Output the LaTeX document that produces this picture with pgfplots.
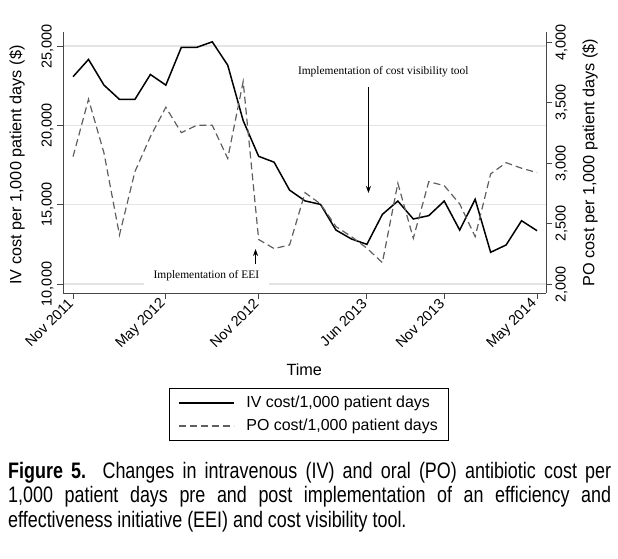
\documentclass[border=0pt]{standalone}
\usepackage{pgfplots}
\usepackage{pgfplotstable}
\pgfplotsset{compat=1.18}
\usetikzlibrary{arrows.meta}
\usepackage{fontspec}
\setmainfont{Liberation Sans}
\newfontfamily\annotfont{Liberation Serif}
\newfontfamily\capfont[FakeStretch=0.8]{Liberation Sans}

% month index 0 = Nov 2011 ... 30 = May 2014
\pgfplotstableread{
m   iv     po
0   23070  3055
1   24160  3529
2   22540  3085
3   21640  2407
4   21640  2931
5   23210  3220
6   22540  3463
7   24920  3253
8   24920  3314
9   25270  3314
10  23800  3040
11  20300  3675
12  18050  2370
13  17680  2295
14  15920  2325
15  15240  2757
16  15020  2664
17  13400  2477
18  12840  2394
19  12500  2298
20  14390  2179
21  15230  2835
22  14100  2380
23  14310  2848
24  15230  2815
25  13400  2664
26  15340  2394
27  12000  2912
28  12460  3005
29  13990  2959
30  13360  2923
}\costdata

\definecolor{axisgray}{RGB}{70,70,70}
\definecolor{gridgray}{RGB}{228,228,228}
\definecolor{dashgray}{RGB}{95,95,95}

\pgfplotsset{
  twin/.style={
    at={(63bp,266bp)}, anchor=south west,
    scale only axis, width=483bp, height=261bp,
    xmin=-0.65, xmax=30.58,
    scaled y ticks=false,
    axis line style={-, draw=axisgray, line width=0.9bp},
    tick style={draw=axisgray, line width=0.9bp},
    tick align=outside, major tick length=6bp,
    ticklabel style={font=\fontsize{14.5}{16}\selectfont},
    label style={font=\fontsize{16.3}{18}\selectfont},
    clip=false,
  },
  ivstyle/.style={black, line width=1.5bp},
  postyle/.style={dashgray, line width=1.2bp, dash pattern=on 7bp off 4bp},
}

\begin{document}
\begin{tikzpicture}
\useasboundingbox (0,0) rectangle (618bp,559bp);

\begin{axis}[
  twin,
  ymin=9433, ymax=25889,
  axis x line*=bottom, axis y line*=left,
  xtick={0,6,12,19,24,30},
  xticklabels={Nov 2011, May 2012, Nov 2012, Jun 2013, Nov 2013, May 2014},
  xticklabel style={rotate=45, anchor=east},
  ytick={10000,15000,20000,25000},
  yticklabels={{10,000},{15,000},{20,000},{25,000}},
  yticklabel style={rotate=90, anchor=south},
  ymajorgrids, grid style={gridgray, line width=1.4bp},
  xlabel={Time},
  xlabel style={at={(axis description cs:0.4995,-0.295)}, anchor=center},
  ylabel={IV cost per 1,000 patient days (\$)},
  ylabel style={at={(axis description cs:-0.095,0.49)}, anchor=center},
  legend style={at={(axis description cs:0.509,-0.364)}, anchor=north,
    draw=black, line width=0.8bp, font=\fontsize{16}{18}\selectfont,
    inner xsep=9bp, inner ysep=6bp, row sep=6bp, column sep=10bp},
  legend cell align=left,
  legend image code/.code={\draw[#1] (0bp,0bp) -- (55bp,0bp);},
]
\addplot[ivstyle] table[x=m, y=iv] {\costdata};
\addlegendentry{IV cost/1,000 patient days}
\addlegendimage{postyle}
\addlegendentry{PO cost/1,000 patient days}

\node[font=\annotfont\fontsize{11.5}{12}\selectfont] at (axis cs:20.06,23367)
  {Implementation of cost visibility tool};
\draw[-{Stealth[length=7bp,width=5bp]}, line width=0.8bp] (axis cs:19.1,22421) -- (axis cs:19.1,15738);
\node[font=\annotfont\fontsize{11.5}{12}\selectfont, fill=white, inner xsep=10bp, inner ysep=4bp]
  at (axis cs:8.62,10504) {Implementation of EEI};
\draw[-{Stealth[length=7bp,width=5bp]}, line width=0.8bp] (axis cs:11.8,11261) -- (axis cs:11.8,12207);
\end{axis}

\begin{axis}[
  twin,
  ymin=1928, ymax=4085,
  axis x line=none, axis y line*=right,
  ytick={2000,2500,3000,3500,4000},
  yticklabels={{2,000},{2,500},{3,000},{3,500},{4,000}},
  yticklabel style={rotate=90, anchor=north},
  ylabel={PO cost per 1,000 patient days (\$)},
  ylabel style={at={(axis description cs:1.091,0.5)}, anchor=center},
]
\addplot[postyle] table[x=m, y=po] {\costdata};
\end{axis}

\node[anchor=base west, inner sep=0, font=\capfont\fontsize{22.5}{24.5}\selectfont, align=left]
  at (8bp,31.7bp)
  {\makebox[603bp][s]{\textbf{Figure 5.} Changes in intravenous (IV) and oral (PO) antibiotic cost per}\\
   \makebox[603bp][s]{1,000 patient days pre and post implementation of an efficiency and}\\
   effectiveness initiative (EEI) and cost visibility tool.};
\end{tikzpicture}
\end{document}
